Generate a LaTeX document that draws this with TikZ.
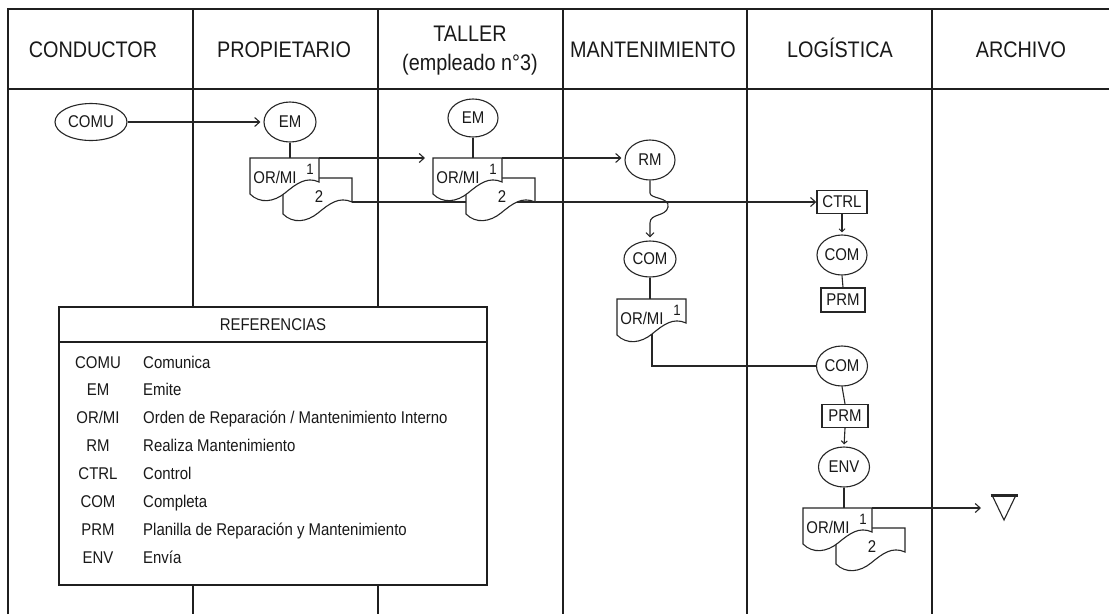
\documentclass[tikz,border=0pt]{standalone}
\usepackage{fontspec}
\setmainfont{Liberation Sans}[FakeStretch=0.88]
\usetikzlibrary{shapes.geometric,arrows.meta}
\begin{document}
\begin{tikzpicture}[x=1pt,y=-1pt,
  grid/.style={line width=2pt,draw=black!88},
  conn/.style={line width=1.1pt,draw=black!85},
  arr/.style={conn,-{Straight Barb[length=5pt,width=9pt,line width=1.1pt]}},
  sarr/.style={conn,-{Straight Barb[length=3pt,width=6pt,line width=1pt]}},
  thickconn/.style={line width=2.4pt,draw=black!85},
  oval/.style={ellipse,draw=black!85,line width=1.1pt,fill=white,inner sep=0pt,
    minimum width=51pt,minimum height=40pt,font=\fontsize{17}{17}\selectfont,text=black!90},
  boxn/.style={rectangle,draw=black!85,line width=1.4pt,fill=white,inner sep=0pt,
    minimum width=48pt,minimum height=23pt,font=\fontsize{17}{17}\selectfont,text=black!90},
  head/.style={font=\fontsize{22.5}{29}\selectfont,text=black!90,align=center,anchor=base},
  reftxt/.style={font=\fontsize{17}{17}\selectfont,text=black!90,inner sep=0pt,anchor=base},
  doclab/.style={font=\fontsize{17}{17}\selectfont,text=black!90,inner sep=0pt},
  docfront/.pic={
    \filldraw[conn,fill=white] (0,0) -- (69,0) -- (69,24)
      .. controls (56,18) and (46,26) .. (35,35)
      .. controls (24,44) and (10,46) .. (0,36) -- cycle;
    \coordinate (-tr) at (69,0);
    \coordinate (-tl) at (0,0);
    \coordinate (-bc) at (35,35);
    \node[doclab] (-lab) at (25,19) {OR/MI};
    \node[doclab,font=\fontsize{15}{15}\selectfont] (-one) at (60,11) {1};
  },
  docback/.pic={
    \filldraw[conn,fill=white] (0,0) -- (69,0) -- (69,24)
      .. controls (56,18) and (46,26) .. (35,35)
      .. controls (24,44) and (10,46) .. (0,36) -- cycle;
    \coordinate (-br) at (69,24);
    \node[doclab] (-two) at (36,19) {2};
  }
]
\useasboundingbox (0,0) rectangle (1109,614);
\fill[white] (0,0) rectangle (1109,614);

% table
\draw[grid] (8,614) -- (8,9) -- (1109,9);
\draw[grid] (8,89) -- (1109,89);
\foreach \x in {193,378,563,747,932} \draw[grid] (\x,9) -- (\x,614);

\node[head] (hc) at (93,57) {CONDUCTOR};
\node[head] (hp) at (284,57) {PROPIETARIO};
\node[head] (ht1) at (470,41) {TALLER};
\node[head] (ht2) at (470,70) {(empleado n°3)};
\node[head] (hm) at (653,57) {MANTENIMIENTO};
\node[head] (hl) at (840,57) {LOGÍSTICA};
\node[head] (ha) at (1021,57) {ARCHIVO};

% nodes
\node[oval,minimum width=72pt,minimum height=37pt] (COMU) at (91,122) {COMU};
\node[oval,minimum width=52pt] (EMp) at (290,122) {EM};
\node[oval,minimum width=50pt,minimum height=38pt] (EMt) at (473,118) {EM};
\node[oval,minimum width=50pt] (RM) at (650,160) {RM};
\node[oval,minimum width=52pt,minimum height=36pt] (COMm) at (650,259) {COM};
\node[boxn,minimum width=50pt] (CTRL) at (842,202) {CTRL};
\node[oval,minimum width=50pt] (COMl1) at (842,255) {COM};
\node[boxn,minimum width=44pt,minimum height=24pt] (PRM1) at (843,300) {PRM};
\node[oval] (COMl2) at (842,366) {COM};
\node[boxn,minimum width=46pt] (PRM2) at (845,416) {PRM};
\node[oval] (ENV) at (844,467) {ENV};

% long line behind taller documents
\pic (p2) at (283,178) {docback};
\draw[arr] (p2-br) -- (p2-br -| CTRL.west);

% documents
\pic (p1) at (250,158) {docfront};
\pic (t2) at (466,178) {docback};
\pic (t1) at (433,158) {docfront};
\pic (m1) at (617,299) {docfront};
\pic (l2) at (836,528) {docback};
\pic (l1) at (803,508) {docfront};

% connectors
\draw[arr,shorten >=3pt] (COMU) -- (EMp);
\draw[conn] (EMp.south) -- (EMp.south |- p1-tr);
\draw[arr,shorten >=8pt] (p1-tr) -- (p1-tr -| t1-tl);
\draw[conn] (EMt.south) -- (EMt.south |- t1-tr);
\draw[arr,shorten >=3pt] (t1-tr) -- (t1-tr -| RM.west);
\draw[conn,-{Straight Barb[length=4pt,width=8pt,line width=1.1pt]},shorten >=3pt]
  (RM.south) -- (650,193) .. controls (650,199) and (670,197) .. (668,207)
  .. controls (666,217) and (650,213) .. (650,223) -- (COMm.north);
\draw[conn] (COMm.south) -- (COMm.south |- m1-tl);
\draw[thickconn] (m1-bc) |- (COMl2.west);
\draw[sarr,shorten >=2pt] (CTRL.south) -- (COMl1.north);
\draw[conn] (COMl1.south) -- (PRM1.north);
\draw[conn] (COMl2.south) -- (PRM2.north);
\draw[sarr,shorten >=2pt] (PRM2.south) -- (ENV.north);
\draw[conn] (ENV.south) -- (ENV.south |- l1-tr);

% archive triangle
\coordinate (arch) at (981,508);
\draw[arr] (l1-tr) -- (arch);
\draw[conn] (992,495) -- (1004,520) -- (1016,495);
\draw[line width=2.4pt,draw=black!85] (990.5,495.5) -- (1017.5,495.5);

% references
\draw[grid,fill=white] (59,307) rectangle (487,585);
\draw[grid] (59,342) -- (487,342);
\node[reftxt] (reft) at (273,330) {REFERENCIAS};
\foreach \i/\a/\d [count=\n from 0] in {1/{COMU}/{Comunica},2/{EM}/{Emite},3/{OR/MI}/{Orden de Reparación / Mantenimiento Interno},4/{RM}/{Realiza Mantenimiento},5/{CTRL}/{Control},6/{COM}/{Completa},7/{PRM}/{Planilla de Reparación y Mantenimiento},8/{ENV}/{Envía}}{
  \node[reftxt] (ra\i) at (98,{368+27.9*\n}) {\a};
  \node[reftxt,anchor=base west] (rd\i) at (143,{368+27.9*\n}) {\d};
}
\end{tikzpicture}
\end{document}
